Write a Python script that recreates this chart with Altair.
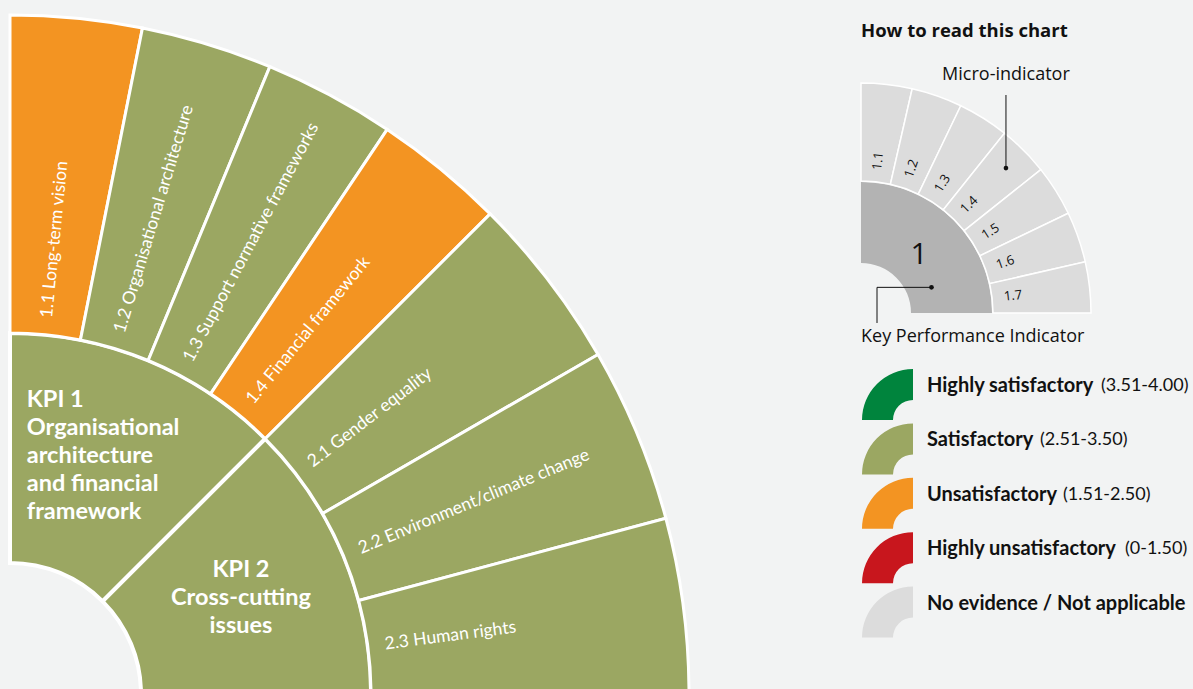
import math
import altair as alt
import pandas as pd

# ---------------- data ----------------
kpi_ids = ["KPI 1", "KPI 2"]
kpi_titles = ["KPI 1\nOrganisational\narchitecture\nand financial\nframework",
              "KPI 2\nCross-cutting\nissues"]
kpi_ratings = ["Satisfactory", "Satisfactory"]

micro_codes = ["1.1", "1.2", "1.3", "1.4", "2.1", "2.2", "2.3"]
micro_kpi = ["KPI 1", "KPI 1", "KPI 1", "KPI 1", "KPI 2", "KPI 2", "KPI 2"]
micro_names = ["Long-term vision", "Organisational architecture",
               "Support normative frameworks", "Financial framework",
               "Gender equality", "Environment/climate change", "Human rights"]
micro_ratings = ["Unsatisfactory", "Satisfactory", "Satisfactory", "Unsatisfactory",
                 "Satisfactory", "Satisfactory", "Satisfactory"]

rating_names = ["Highly satisfactory", "Satisfactory", "Unsatisfactory",
                "Highly unsatisfactory", "No evidence / Not applicable"]
rating_ranges = ["(3.51-4.00)", "(2.51-3.50)", "(1.51-2.50)", "(0-1.50)", ""]
rating_colors = ["#00843D", "#9BA762", "#F39422", "#C8161D", "#DCDCDC"]

example_codes = ["1.1", "1.2", "1.3", "1.4", "1.5", "1.6", "1.7"]
example_kpi = ["1"]

# ---------------- geometry (layout) ----------------
QUARTER = 90.0
theta_scale = alt.Scale(domain=[0, 360], range=[0, 2 * math.pi])
color_scale = alt.Scale(domain=rating_names, range=rating_colors)

CX, CY = 10, 694           # main chart centre
MX, MY = 861, 313          # example diagram centre

kpi_span = QUARTER / len(kpi_ids)
kpi_rows = []
for i, k in enumerate(kpi_ids):
    s = i * kpi_span
    kpi_rows.append({"kpi": k, "title": kpi_titles[i], "rating": kpi_ratings[i],
                     "start": s, "end": s + kpi_span, "mid": s + kpi_span / 2})
kpi_df = pd.DataFrame(kpi_rows)

micro_rows = []
for i, k in enumerate(kpi_ids):
    codes = [j for j, kk in enumerate(micro_kpi) if kk == k]
    step = kpi_span / len(codes)
    for n, j in enumerate(codes):
        s = i * kpi_span + n * step
        mid = s + step / 2
        micro_rows.append({"code": micro_codes[j],
                           "label": micro_codes[j] + " " + micro_names[j],
                           "rating": micro_ratings[j], "start": s, "end": s + step,
                           "mid": mid, "tangle": 270 + mid})
micro_df = pd.DataFrame(micro_rows)

ex_step = QUARTER / len(example_codes)
ex_df = pd.DataFrame([{"code": c, "start": i * ex_step, "end": (i + 1) * ex_step,
                       "mid": (i + 0.5) * ex_step, "tangle": 270 + (i + 0.5) * ex_step}
                      for i, c in enumerate(example_codes)])
ex_kpi_df = pd.DataFrame([{"kpi": example_kpi[0], "start": 0, "end": QUARTER, "mid": 45}])

leg_df = pd.DataFrame([{"rating": r, "range": rr, "idx": i, "start": 270, "end": 360}
                       for i, (r, rr) in enumerate(zip(rating_names, rating_ranges))])

FONT = "Lato"
SANS = "Open Sans"
INK = "#111111"

def th(field):
    return alt.Theta(field, type="quantitative", scale=theta_scale, stack=None)

# ---------------- main chart ----------------
kpi_arcs = alt.Chart(kpi_df).mark_arc(stroke="white", strokeWidth=4).encode(
    theta=th("start"), theta2="end",
    radius=alt.value(361), radius2=alt.value(131),
    x=alt.value(CX), y=alt.value(CY),
    color=alt.Color("rating:N", scale=color_scale, legend=None),
)

micro_arcs = alt.Chart(micro_df).mark_arc(stroke="white", strokeWidth=3).encode(
    theta=th("start"), theta2="end",
    radius=alt.value(679), radius2=alt.value(361),
    x=alt.value(CX), y=alt.value(CY),
    color=alt.Color("rating:N", scale=color_scale, legend=None),
)

micro_labels = alt.Chart(micro_df).mark_text(
    align="left", baseline="middle", font=FONT, fontSize=17.5, fontWeight=400, color="white"
).encode(
    theta=th("mid"), radius=alt.value(378),
    x=alt.value(CX), y=alt.value(CY),
    angle=alt.Angle("tangle:Q", scale=None),
    text="label:N",
)

kpi1_label = alt.Chart(kpi_df).transform_filter(alt.datum.kpi == "KPI 1").mark_text(
    align="left", baseline="middle", font=FONT, fontSize=23.5, fontWeight="bold",
    color="white", lineBreak="\n", lineHeight=28, dx=-82, dy=-56
).encode(
    theta=th("mid"), radius=alt.value(258),
    x=alt.value(CX), y=alt.value(CY), text="title:N",
)

kpi2_label = alt.Chart(kpi_df).transform_filter(alt.datum.kpi == "KPI 2").mark_text(
    align="center", baseline="middle", font=FONT, fontSize=23.5, fontWeight="bold",
    color="white", lineBreak="\n", lineHeight=28, dy=-28
).encode(
    theta=th("mid"), radius=alt.value(250),
    x=alt.value(CX), y=alt.value(CY), text="title:N",
)

# ---------------- "how to read" diagram ----------------
one = alt.Data(values=[{}])

title = alt.Chart(one).mark_text(
    text="How to read this chart", align="left", baseline="middle",
    font=SANS, fontSize=18.5, fontWeight="bold", color=INK
).encode(x=alt.value(861), y=alt.value(31))

ex_kpi_arc = alt.Chart(ex_kpi_df).mark_arc(color="#B3B3B3").encode(
    theta=th("start"), theta2="end",
    radius=alt.value(131), radius2=alt.value(50),
    x=alt.value(MX), y=alt.value(MY),
)
ex_arcs = alt.Chart(ex_df).mark_arc(color="#DCDCDC", stroke="white", strokeWidth=1.5).encode(
    theta=th("start"), theta2="end",
    radius=alt.value(230), radius2=alt.value(132),
    x=alt.value(MX), y=alt.value(MY),
)
ex_labels = alt.Chart(ex_df).mark_text(
    align="center", baseline="middle", font=SANS, fontSize=13, color=INK
).encode(
    theta=th("mid"), radius=alt.value(153),
    x=alt.value(MX), y=alt.value(MY),
    angle=alt.Angle("tangle:Q", scale=None), text="code:N",
)
ex_kpi_label = alt.Chart(ex_kpi_df).mark_text(
    align="center", baseline="middle", font=SANS, fontSize=30, color=INK
).encode(
    theta=th("mid"), radius=alt.value(82),
    x=alt.value(MX), y=alt.value(MY), text="kpi:N",
)

def polar(cx, cy, r, deg):
    a = math.radians(deg)
    return cx + r * math.sin(a), cy - r * math.cos(a)

mdx, mdy = polar(MX, MY, 205, 45)
kdx, kdy = polar(MX, MY, 75, 70)

micro_text = alt.Chart(one).mark_text(
    text="Micro-indicator", align="center", baseline="middle",
    font=SANS, fontSize=18, color=INK
).encode(x=alt.value(mdx), y=alt.value(75))
micro_line = alt.Chart(one).mark_rule(color=INK, strokeWidth=1).encode(
    x=alt.value(mdx), y=alt.value(95), y2=alt.value(mdy))
micro_dot = alt.Chart(one).mark_circle(color=INK, size=22, opacity=1).encode(
    x=alt.value(mdx), y=alt.value(mdy))

kpi_hline = alt.Chart(one).mark_rule(color=INK, strokeWidth=1).encode(
    x=alt.value(877), x2=alt.value(kdx), y=alt.value(kdy))
kpi_vline = alt.Chart(one).mark_rule(color=INK, strokeWidth=1).encode(
    x=alt.value(877), y=alt.value(kdy), y2=alt.value(323))
kpi_dot = alt.Chart(one).mark_circle(color=INK, size=22, opacity=1).encode(
    x=alt.value(kdx), y=alt.value(kdy))
kpi_text = alt.Chart(one).mark_text(
    text="Key Performance Indicator", align="left", baseline="middle",
    font=SANS, fontSize=18, color=INK
).encode(x=alt.value(861), y=alt.value(337))

# ---------------- legend ----------------
LEG_TOP = 420
LEG_STEP = 54.4
range_x = {"Highly satisfactory": 1101, "Satisfactory": 1040,
           "Unsatisfactory": 1063, "Highly unsatisfactory": 1125}

leg_icons = []
for i, r in enumerate(rating_names):
    leg_icons.append(
        alt.Chart(leg_df).transform_filter(alt.datum.rating == r).mark_arc().encode(
            theta=th("start"), theta2="end",
            radius=alt.value(51), radius2=alt.value(20),
            x=alt.value(913), y=alt.value(LEG_TOP + i * LEG_STEP),
            color=alt.Color("rating:N", scale=color_scale, legend=None),
        )
    )

leg_base = alt.Chart(leg_df).transform_calculate(
    ty=f"{LEG_TOP} + datum.idx * {LEG_STEP} - 34",
)
leg_names = leg_base.mark_text(
    align="left", baseline="middle", font=FONT, fontSize=20, fontWeight="bold", color=INK
).encode(x=alt.value(927), y=alt.Y("ty:Q", scale=None), text="rating:N")

leg_ranges = leg_base.transform_filter(alt.datum.range != "").transform_calculate(
    rx="datum.rating == 'Highly satisfactory' ? %d : datum.rating == 'Satisfactory' ? %d : "
       "datum.rating == 'Unsatisfactory' ? %d : %d" % (
           range_x["Highly satisfactory"], range_x["Satisfactory"],
           range_x["Unsatisfactory"], range_x["Highly unsatisfactory"])
).mark_text(
    align="left", baseline="middle", font=FONT, fontSize=18, color=INK
).encode(x=alt.X("rx:Q", scale=None), y=alt.Y("ty:Q", scale=None), text="range:N")

chart = alt.layer(
    kpi_arcs, micro_arcs, micro_labels, kpi1_label, kpi2_label,
    title, ex_kpi_arc, ex_arcs, ex_labels, ex_kpi_label,
    micro_line, micro_dot, micro_text, kpi_hline, kpi_vline, kpi_dot, kpi_text,
    *leg_icons, leg_names, leg_ranges,
).properties(
    width=1193, height=689, autosize=alt.AutoSizeParams(type="none"), padding=0,
    background="#F2F3F3",
).configure_view(stroke=None)

chart.save("out.html", embed_options={"renderer": "svg", "actions": False})
